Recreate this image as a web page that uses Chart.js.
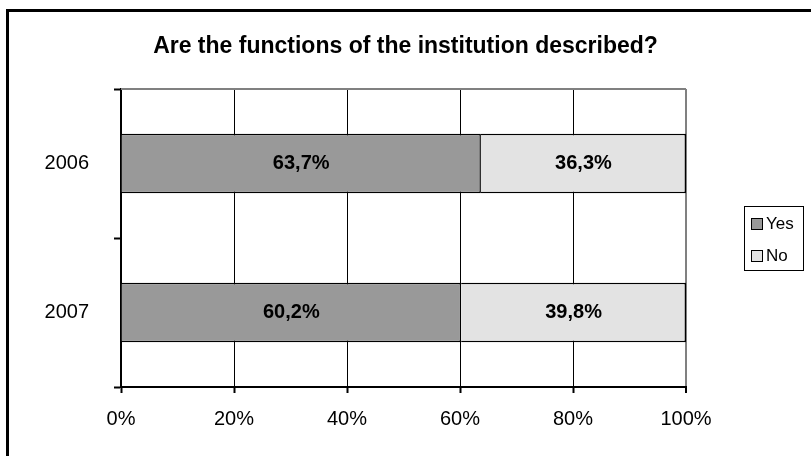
<!DOCTYPE html>
<html>
<head>
<meta charset="utf-8">
<script src="https://cdn.jsdelivr.net/npm/chart.js@4"></script>
<style>
  body { margin: 0; background: #fff; font-family: "Liberation Sans", Arial, sans-serif; }
  #wrap { position: relative; width: 811px; height: 456px; overflow: hidden; }
  #frame { position: absolute; left: 6px; top: 9px; width: 900px; height: 500px; border: 3px solid #000; }
  #title { position: absolute; left: 0; width: 811px; top: 31px; text-align: center; font-weight: bold; font-size: 23px; line-height: 28px; }
  #legend { position: absolute; left: 744px; top: 206px; width: 58px; height: 63px; border: 1px solid #000; font-size: 17px; }
  .item { position: absolute; left: 6px; height: 20px; line-height: 20px; white-space: nowrap; }
  .swatch { display: inline-block; width: 10px; height: 10px; border: 1.5px solid #000; margin-right: 3px; vertical-align: -1px; }
  canvas { position: absolute; left: 0; top: 0; }
</style>
</head>
<body>
<div id="wrap">
  <div id="frame"></div>
  <canvas id="chart" width="811" height="456"></canvas>
  <div id="title">Are the functions of the institution described?</div>
  <div id="legend"></div>
</div>
<script>
// Data
const years = ['2006', '2007'];
const seriesNames = ['Yes', 'No'];
const yesValues = [63.7, 60.2];
const noValues = [36.3, 39.8];
const seriesColors = ['#999999', '#e3e3e3'];
const xTicks = [0, 20, 40, 60, 80, 100];

// Build the HTML legend
const legendDiv = document.getElementById('legend');
seriesNames.forEach((name, i) => {
    const item = document.createElement('div');
    item.className = 'item';
    item.style.top = (7 + i * 32) + 'px';
    item.innerHTML = `<span class="swatch" style="background:${seriesColors[i]}"></span>${name}`;
    legendDiv.appendChild(item);
});

// Bold value labels in the middle of each bar
const valueLabels = {
    id: 'valueLabels',
    afterDatasetsDraw(chart) {
        const ctx = chart.ctx;
        ctx.save();
        ctx.font = 'bold 20px "Liberation Sans", Arial, sans-serif';
        ctx.fillStyle = '#000';
        ctx.textAlign = 'center';
        ctx.textBaseline = 'middle';
        chart.data.datasets.forEach((ds, di) => {
            chart.getDatasetMeta(di).data.forEach((bar, i) => {
                const p = bar.getCenterPoint();
                ctx.fillText(ds.data[i].toFixed(1).replace('.', ',') + '%', p.x, p.y);
            });
        });
        ctx.restore();
    }
};

// Gray line along the top of the plot area
const topBorder = {
    id: 'topBorder',
    beforeDatasetsDraw(chart) {
        const a = chart.chartArea;
        const ctx = chart.ctx;
        ctx.save();
        ctx.strokeStyle = '#808080';
        ctx.lineWidth = 2;
        ctx.beginPath();
        ctx.moveTo(a.left, a.top);
        ctx.lineTo(a.right, a.top);
        ctx.stroke();
        ctx.restore();
    }
};

new Chart(document.getElementById('chart'), {
    type: 'bar',
    data: {
        labels: years,
        datasets: [
            { label: seriesNames[0], data: yesValues, backgroundColor: seriesColors[0] },
            { label: seriesNames[1], data: noValues, backgroundColor: seriesColors[1] }
        ]
    },
    options: {
        indexAxis: 'y',
        responsive: false,
        animation: false,
        layout: { padding: { top: 89, right: 125, left: 0, bottom: 0 } },
        datasets: {
            bar: {
                borderColor: '#000',
                borderWidth: 1.5,
                barPercentage: 0.4,
                categoryPercentage: 1
            }
        },
        plugins: {
            legend: { display: false },
            tooltip: { enabled: false }
        },
        scales: {
            x: {
                stacked: true,
                min: 0,
                max: 100,
                afterBuildTicks: scale => { scale.ticks = xTicks.map(v => ({ value: v })); },
                afterFit: scale => { scale.height = 69; },
                ticks: {
                    color: '#000',
                    padding: 14,
                    font: { family: '"Liberation Sans", Arial, sans-serif', size: 20 },
                    callback: v => v + '%'
                },
                grid: {
                    color: c => (c.tick && c.tick.value === 100 ? '#808080' : '#000'),
                    lineWidth: c => (c.tick && c.tick.value === 100 ? 2 : 1),
                    tickColor: '#000',
                    tickLength: 6,
                    tickWidth: 2
                },
                border: { color: '#000', width: 2 }
            },
            y: {
                stacked: true,
                afterFit: scale => { scale.width = 121; },
                ticks: {
                    color: '#000',
                    padding: 25,
                    font: { family: '"Liberation Sans", Arial, sans-serif', size: 20 }
                },
                grid: {
                    drawOnChartArea: false,
                    tickColor: '#000',
                    tickLength: 7,
                    tickWidth: 2
                },
                border: { color: '#000', width: 2 }
            }
        }
    },
    plugins: [valueLabels, topBorder]
});
</script>
</body>
</html>
